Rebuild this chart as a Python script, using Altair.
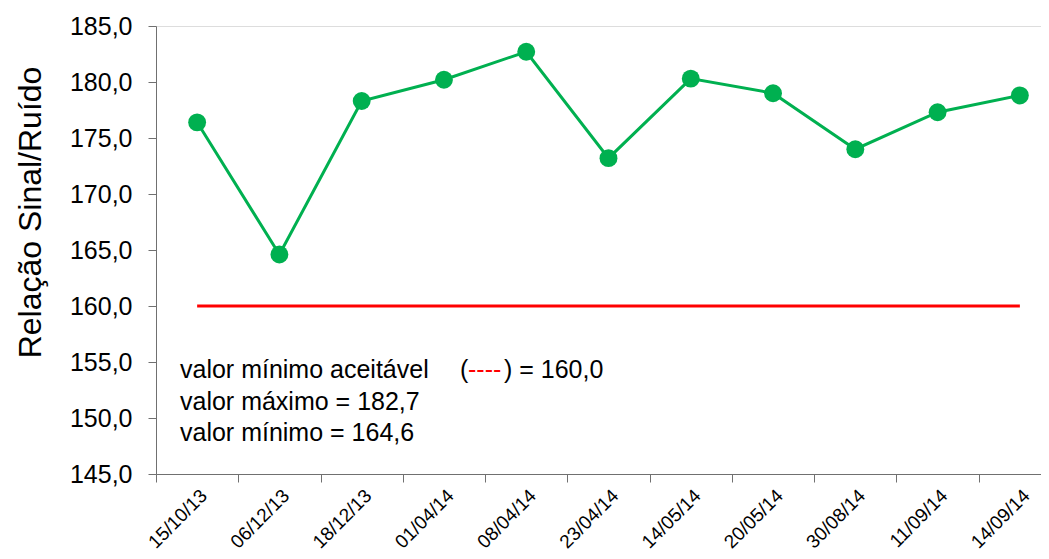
import altair as alt
import pandas as pd

dates = ["15/10/13", "06/12/13", "18/12/13", "01/04/14", "08/04/14", "23/04/14",
         "14/05/14", "20/05/14", "30/08/14", "11/09/14", "14/09/14"]
values = [176.4, 164.6, 178.3, 180.2, 182.7, 173.2, 180.3, 179.0, 174.0, 177.3, 178.8]
limit = [160.0] * len(dates)

notes_black = ["valor mínimo aceitável", "valor máximo = 182,7", "valor mínimo = 164,6"]
notes_y = [153.6, 150.7, 147.95]

df = pd.DataFrame({"data": dates, "valor": values, "limite": limit})

x = alt.X("data:N", sort=dates, title=None,
          scale=alt.Scale(paddingInner=0, paddingOuter=0, range=[0, 905]),
          axis=alt.Axis(labelAngle=-45, labelFont="Liberation Sans", labelFontSize=19,
                        labelColor="black", tickBand="extent", tickSize=8,
                        domainColor="#707070", tickColor="#707070", labelPadding=4))
yscale = alt.Scale(domain=[145, 185], nice=False, zero=False)
y = alt.Y("valor:Q", scale=yscale, title="Relação Sinal/Ruído",
          axis=alt.Axis(values=[145, 150, 155, 160, 165, 170, 175, 180, 185],
                        labelExpr="replace(format(datum.value, '.1f'), '.', ',')",
                        labelFont="Liberation Sans", labelFontSize=25, labelColor="black",
                        titleFont="Liberation Sans", titleFontSize=32, titleFontWeight="normal",
                        titleColor="black", titleX=-126, titleY=186, titleAngle=-90,
                        titleBaseline="middle", titleAlign="center",
                        tickSize=8, labelPadding=16,
                        domainColor="#707070", tickColor="#707070", grid=False))

base = alt.Chart(df)
red = base.mark_line(color="#FF0000", strokeWidth=3).encode(x=x, y=alt.Y("limite:Q", scale=yscale))
line = base.mark_line(color="#00B050", strokeWidth=3).encode(x=x, y=y)
pts = base.mark_point(filled=True, color="#00B050", opacity=1, size=320, shape="circle").encode(x=x, y=y)

tstyle = dict(align="left", baseline="alphabetic", font="Liberation Sans", fontSize=25)

ndf = pd.DataFrame({"t": notes_black, "y": notes_y})
txt = alt.Chart(ndf).mark_text(color="black", **tstyle).encode(
    x=alt.value(24), y=alt.Y("y:Q", scale=yscale), text="t:N")
d0 = pd.DataFrame({"t": ["("], "y": [notes_y[0]]})
paren = alt.Chart(d0).mark_text(color="black", **tstyle).encode(
    x=alt.value(304), y=alt.Y("y:Q", scale=yscale), text="t:N")
d1 = pd.DataFrame({"t": ["----"], "y": [notes_y[0]]})
dash = alt.Chart(d1).mark_text(color="#FF0000", **tstyle).encode(
    x=alt.value(312), y=alt.Y("y:Q", scale=yscale), text="t:N")
d2 = pd.DataFrame({"t": [") = 160,0"], "y": [notes_y[0]]})
tail = alt.Chart(d2).mark_text(color="black", **tstyle).encode(
    x=alt.value(348), y=alt.Y("y:Q", scale=yscale), text="t:N")

chart = alt.layer(red, line, pts, txt, paren, dash, tail).properties(
    width=885, height=448,
    autosize=alt.AutoSizeParams(type="none"),
    padding={"left": 148, "top": 18, "right": 0, "bottom": 85},
).configure_view(stroke=None).configure(background="white")

chart.save("out.html", embed_options={"renderer": "svg", "actions": False})
